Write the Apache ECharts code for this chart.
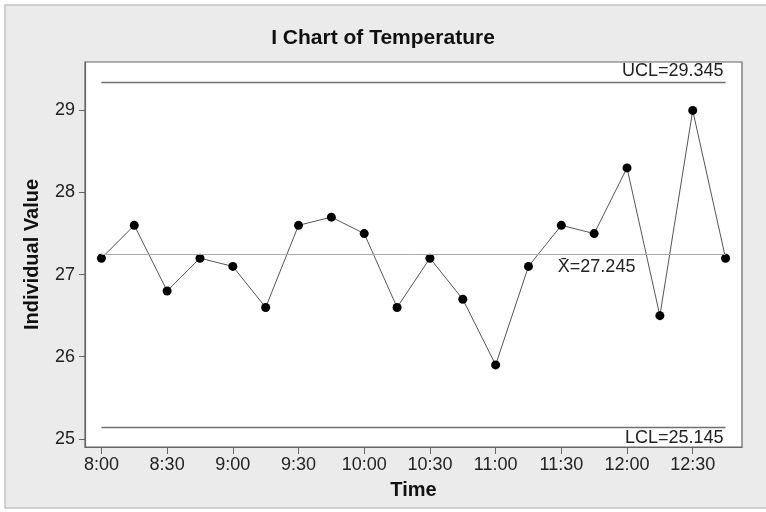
<!DOCTYPE html>
<html>
<head>
<meta charset="utf-8">
<script src="https://cdn.jsdelivr.net/npm/echarts@6/dist/echarts.min.js"></script>
<style>
  html, body { margin: 0; padding: 0; background: #fff; }
  #chart { width: 766px; height: 512px; }
</style>
</head>
<body>
<div id="chart"></div>
<script>
// Sample times (every 15 minutes)
const times = ["8:00","8:15","8:30","8:45","9:00","9:15","9:30","9:45","10:00","10:15",
               "10:30","10:45","11:00","11:15","11:30","11:45","12:00","12:15","12:30","12:45"];
// Individual temperature readings
const temperature = [27.2, 27.6, 26.8, 27.2, 27.1, 26.6, 27.6, 27.7, 27.5, 26.6,
                     27.2, 26.7, 25.9, 27.1, 27.6, 27.5, 28.3, 26.5, 29.0, 27.2];
// Labelled times on the x axis
const timeTicks = ["8:00","8:30","9:00","9:30","10:00","10:30","11:00","11:30","12:00","12:30"];
// Labelled values on the y axis
const valueTicks = [25, 26, 27, 28, 29];
// Control limits and centre line
const UCL = 29.345;
const CENTER = 27.245;
const LCL = 25.145;

const FONT = '"Liberation Sans", Arial, sans-serif';
const last = times.length - 1;
const showTick = (i) => timeTicks.indexOf(times[i]) >= 0;

const chart = echarts.init(document.getElementById('chart'), null, { renderer: 'canvas' });

const limitLine = (v, text, pos) => [
  { coord: [0, v], label: { formatter: text, position: pos } },
  { coord: [last, v] }
];

chart.setOption({
  animation: false,
  backgroundColor: '#fff',
  graphic: [{
    type: 'rect',
    z: -10,
    shape: { x: 5, y: 5, width: 780, height: 503 },
    style: { fill: '#ebebeb', stroke: '#c4c4c4', lineWidth: 1.5 }
  }],
  title: {
    text: 'I Chart of Temperature',
    left: 'center',
    top: 23,
    textStyle: { fontFamily: FONT, fontWeight: 'bold', fontSize: 21, color: '#111' }
  },
  grid: {
    left: 85, right: 24, top: 62, bottom: 65,
    show: true, backgroundColor: '#fff', borderColor: '#666', borderWidth: 1.2
  },
  xAxis: {
    type: 'category',
    data: times,
    boundaryGap: true,
    name: 'Time',
    nameLocation: 'middle',
    nameGap: 33,
    nameTextStyle: { fontFamily: FONT, fontWeight: 'bold', fontSize: 20, color: '#111' },
    axisLine: { show: true, lineStyle: { color: '#666', width: 1.2 } },
    axisTick: { show: true, alignWithLabel: true, interval: showTick, length: 7, lineStyle: { color: '#666' } },
    axisLabel: { interval: showTick, fontFamily: FONT, fontSize: 18, color: '#222', margin: 9 },
    splitLine: { show: false }
  },
  yAxis: {
    type: 'value',
    min: 24.9,
    max: 29.59,
    name: 'Individual Value',
    nameLocation: 'middle',
    nameGap: 43,
    nameTextStyle: { fontFamily: FONT, fontWeight: 'bold', fontSize: 20, color: '#111' },
    axisLine: { show: true, lineStyle: { color: '#666', width: 1.2 } },
    axisTick: { show: true, length: 6, customValues: valueTicks, lineStyle: { color: '#666' } },
    axisLabel: { customValues: valueTicks, fontFamily: FONT, fontSize: 18, color: '#222', margin: 10 },
    splitLine: { show: false }
  },
  series: [{
    type: 'line',
    data: temperature,
    symbol: 'circle',
    symbolSize: 9,
    lineStyle: { color: '#555', width: 1 },
    itemStyle: { color: '#000' },
    markLine: {
      silent: true,
      symbol: 'none',
      lineStyle: { type: 'solid', color: '#707070', width: 1.3 },
      label: { fontFamily: FONT, fontSize: 18, color: '#222', distance: 2 },
      data: [
        limitLine(UCL, 'UCL=' + UCL, 'insideEndTop'),
        limitLine(LCL, 'LCL=' + LCL, 'insideEndBottom'),
        [
          { coord: [0, CENTER], lineStyle: { color: '#aaa', width: 1 }, label: { show: false } },
          { coord: [last, CENTER] }
        ]
      ]
    },
    markPoint: {
      silent: true,
      symbol: 'circle',
      symbolSize: 1,
      itemStyle: { color: 'rgba(0,0,0,0)' },
      label: {
        show: true,
        position: 'right',
        distance: -4,
        offset: [0, 13],
        fontFamily: FONT,
        fontSize: 18,
        color: '#222',
        formatter: 'X\u0304=' + CENTER
      },
      data: [{ coord: [times.indexOf('11:30'), CENTER] }]
    }
  }]
});
</script>
</body>
</html>
